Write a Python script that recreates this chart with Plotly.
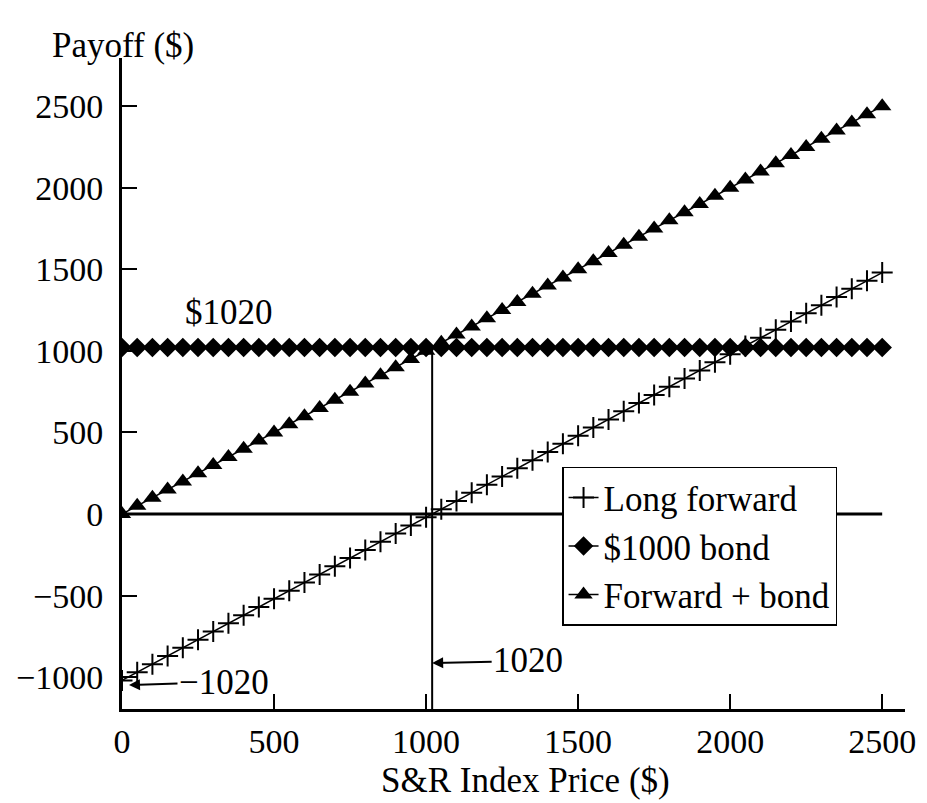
import plotly.graph_objects as go

# ---- data ----
price = [0, 50, 100, 150, 200, 250, 300, 350, 400, 450,
         500, 550, 600, 650, 700, 750, 800, 850, 900, 950,
         1000, 1050, 1100, 1150, 1200, 1250, 1300, 1350, 1400, 1450,
         1500, 1550, 1600, 1650, 1700, 1750, 1800, 1850, 1900, 1950,
         2000, 2050, 2100, 2150, 2200, 2250, 2300, 2350, 2400, 2450, 2500]

long_forward = [-1020, -970, -920, -870, -820, -770, -720, -670, -620, -570,
                -520, -470, -420, -370, -320, -270, -220, -170, -120, -70,
                -20, 30, 80, 130, 180, 230, 280, 330, 380, 430,
                480, 530, 580, 630, 680, 730, 780, 830, 880, 930,
                980, 1030, 1080, 1130, 1180, 1230, 1280, 1330, 1380, 1430, 1480]

bond = [1020, 1020, 1020, 1020, 1020, 1020, 1020, 1020, 1020, 1020,
        1020, 1020, 1020, 1020, 1020, 1020, 1020, 1020, 1020, 1020,
        1020, 1020, 1020, 1020, 1020, 1020, 1020, 1020, 1020, 1020,
        1020, 1020, 1020, 1020, 1020, 1020, 1020, 1020, 1020, 1020,
        1020, 1020, 1020, 1020, 1020, 1020, 1020, 1020, 1020, 1020, 1020]

forward_plus_bond = [0, 50, 100, 150, 200, 250, 300, 350, 400, 450,
                     500, 550, 600, 650, 700, 750, 800, 850, 900, 950,
                     1000, 1050, 1100, 1150, 1200, 1250, 1300, 1350, 1400, 1450,
                     1500, 1550, 1600, 1650, 1700, 1750, 1800, 1850, 1900, 1950,
                     2000, 2050, 2100, 2150, 2200, 2250, 2300, 2350, 2400, 2450, 2500]

series_names = ["Long forward", "$1000 bond", "Forward + bond"]
x_ticks = [0, 500, 1000, 1500, 2000, 2500]
y_ticks = [-1000, -500, 0, 500, 1000, 1500, 2000, 2500]
forward_price = 1020
bond_payoff = 1020

FONT = "Liberation Serif"
X_RANGE = [0, 2575]
Y_RANGE = [-1195, 2795]

fig = go.Figure()
fig.add_trace(go.Scatter(
    x=price, y=long_forward, mode="lines+markers", name=series_names[0],
    line=dict(color="black", width=1.5),
    marker=dict(symbol="cross-thin", size=15, color="black",
                line=dict(color="black", width=2))))
fig.add_trace(go.Scatter(
    x=price, y=bond, mode="lines+markers", name=series_names[1],
    line=dict(color="black", width=1.5),
    marker=dict(symbol="diamond", size=15, color="black")))
fig.add_trace(go.Scatter(
    x=price, y=forward_plus_bond, mode="lines+markers", name=series_names[2],
    line=dict(color="black", width=1.5),
    marker=dict(symbol="triangle-up", size=16, color="black")))

# zero line and vertical line at the forward price
fig.add_shape(type="line", xref="x", yref="y", x0=price[0], x1=price[-1], y0=0, y1=0,
              line=dict(color="black", width=3), layer="below")
fig.add_shape(type="line", xref="x", yref="y", x0=forward_price, x1=forward_price,
              y0=Y_RANGE[0], y1=bond_payoff, line=dict(color="black", width=2), layer="below")

annos = [
    dict(x=351, y=1238, xref="x", yref="y", text="$1020", showarrow=False,
         font=dict(family=FONT, size=35, color="black")),
    dict(x=forward_price, y=-913, xref="x", yref="y", text="1020", showarrow=True,
         ax=96, ay=-2, arrowhead=2, arrowsize=1.1, arrowwidth=2, arrowcolor="black",
         font=dict(family=FONT, size=35, color="black")),
    dict(x=23, y=-1048, xref="x", yref="y", text="\u22121020", showarrow=True,
         ax=95, ay=-3, arrowhead=2, arrowsize=1.1, arrowwidth=2, arrowcolor="black",
         font=dict(family=FONT, size=35, color="black")),
    dict(x=0, y=1, xref="paper", yref="paper", text="Payoff ($)", showarrow=False,
         xanchor="center", yanchor="middle", xshift=1, yshift=13,
         font=dict(family=FONT, size=35, color="black")),
    dict(x=0.515, y=0, xref="paper", yref="paper", text="S&R Index Price ($)",
         showarrow=False, xanchor="center", yanchor="middle", yshift=-71,
         font=dict(family=FONT, size=35, color="black")),
]

# the page adds an 8px body margin, so the figure is drawn 8px smaller and margins reduced
fig.update_layout(
    width=919, height=795,
    margin=dict(l=114, r=22, t=50, b=94, autoexpand=False),
    paper_bgcolor="white", plot_bgcolor="white",
    font=dict(family=FONT, size=33, color="black"),
    showlegend=True,
    legend=dict(x=0.562, y=0.372, xanchor="left", yanchor="top",
                bgcolor="white", bordercolor="black", borderwidth=1.5,
                font=dict(family=FONT, size=35, color="black"),
                tracegroupgap=0, itemwidth=30, entrywidth=245, entrywidthmode="pixels"),
    annotations=annos,
)
fig.update_xaxes(range=X_RANGE, tickvals=x_ticks, ticks="inside", ticklen=15, tickwidth=2,
                 tickcolor="black", showline=True, linewidth=3, linecolor="black",
                 showgrid=False, zeroline=False, ticklabelstandoff=0, automargin=False,
                 tickfont=dict(family=FONT, size=34, color="black"))
fig.update_yaxes(range=Y_RANGE, tickvals=y_ticks, ticks="inside", ticklen=15, tickwidth=2,
                 tickcolor="black", showline=True, linewidth=3, linecolor="black",
                 showgrid=False, zeroline=False, ticklabelstandoff=9, automargin=False,
                 tickfont=dict(family=FONT, size=34, color="black"))

fig.write_html("out.html")
